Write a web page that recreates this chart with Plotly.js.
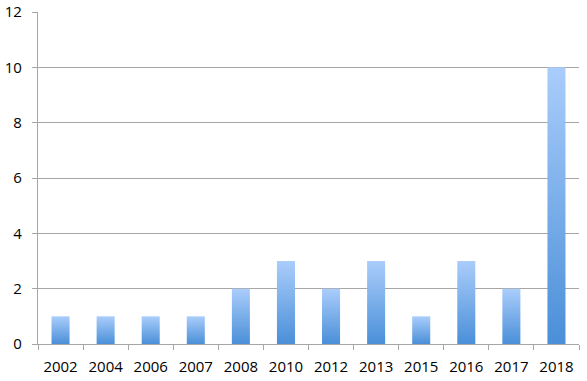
<!DOCTYPE html>
<html><head><meta charset="utf-8">
<script src="https://cdn.plot.ly/plotly-3.0.1.min.js"></script>
<style>html,body{margin:0;padding:0;background:#fff}</style>
</head><body>
<div id="chart" style="width:587px;height:381px"></div>
<script>
const years = ["2002","2004","2006","2007","2008","2010","2012","2013","2015","2016","2017","2018"];
const counts = [1,1,1,1,2,3,2,3,1,3,2,10];
const yTicks = [0,2,4,6,8,10,12];

const trace = {type:"bar", x:years, y:counts, width:0.4,
  marker:{color:"#7aafea", line:{width:0}}, hoverinfo:"none"};
const layout = {
  width:587, height:381, margin:{l:38,r:8,t:12,b:37},
  paper_bgcolor:"#fff", plot_bgcolor:"#fff", showlegend:false,
  font:{family:"Open Sans, DejaVu Sans, sans-serif", size:15, color:"#000"},
  xaxis:{type:"category", showgrid:false, showline:true, linecolor:"#a6a6a6", linewidth:1.2,
    ticks:"outside", tickson:"boundaries", ticklen:5, tickcolor:"#a6a6a6", tickwidth:1,
    tickfont:{size:15}, ticklabelstandoff:9, zeroline:false},
  yaxis:{range:[0,12], tickvals:yTicks, ticktext:yTicks.map(String), showgrid:true, gridcolor:"#a6a6a6", gridwidth:1,
    showline:true, linecolor:"#a6a6a6", linewidth:1.2, ticks:"outside", ticklen:5, tickcolor:"#a6a6a6",
    tickfont:{size:15}, ticklabelstandoff:7, zeroline:false}
};
Plotly.newPlot("chart",[trace],layout,{staticPlot:true}).then(gd=>{
  const svg = gd.querySelector("svg.main-svg");
  const ns="http://www.w3.org/2000/svg";
  let defs = svg.querySelector("defs");
  if(!defs){defs=document.createElementNS(ns,"defs");svg.insertBefore(defs,svg.firstChild);}
  const lg=document.createElementNS(ns,"linearGradient");
  lg.setAttribute("id","barGrad");lg.setAttribute("x1","0");lg.setAttribute("y1","0");lg.setAttribute("x2","0");lg.setAttribute("y2","1");
  [["0%","#aacdfb"],["100%","#4a8fd8"]].forEach(([o,c])=>{const s=document.createElementNS(ns,"stop");s.setAttribute("offset",o);s.setAttribute("stop-color",c);lg.appendChild(s);});
  defs.appendChild(lg);
  gd.querySelectorAll(".bars .point path").forEach(p=>{p.style.fill="url(#barGrad)";});
});
</script>
</body></html>
